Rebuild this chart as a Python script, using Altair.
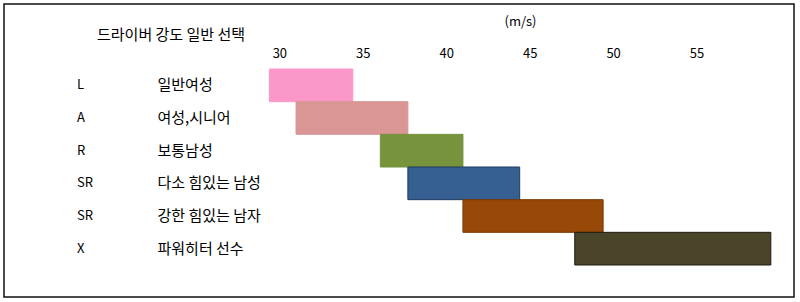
import altair as alt
import pandas as pd

codes = ["L", "A", "R", "SR", "SR", "X"]
names = ["일반여성", "여성,시니어", "보통남성", "다소 힘있는 남성", "강한 힘있는 남자", "파워히터 선수"]
starts = [29.4, 31.0, 36.05, 37.7, 41.0, 47.7]
ends = [34.4, 37.7, 41.0, 44.4, 49.4, 59.45]
ticks = [30, 35, 40, 45, 50, 55]
fills = ["#FC97CA", "#D99694", "#77933C", "#376092", "#984807", "#4A452A"]
strokes = ["#FC97CA", "#D99694", "#77933C", "#1F3A60", "#7A3A06", "#1E1C10"]
title_text = "드라이버 강도 일반 선택"
unit_text = "(m/s)"

FONT = "Noto Sans CJK KR"

df = pd.DataFrame({"code": codes, "name": names, "start": starts, "end": ends})
one = pd.DataFrame({"t": [title_text]})

yenc = alt.Y(
    "name:N",
    sort=names,
    scale=alt.Scale(domain=names, paddingInner=0, paddingOuter=0),
    axis=alt.Axis(
        orient="left", title=None, domain=False, ticks=False, labelAlign="left",
        labelPadding=89, labelFont=FONT, labelFontSize=15, labelColor="black",
        labelBaseline="middle",
    ),
)

bars = alt.Chart(df).mark_bar(strokeWidth=1).encode(
    x=alt.X(
        "start:Q",
        scale=alt.Scale(domain=[28, 60], nice=False, zero=False),
        axis=alt.Axis(
            orient="top", values=ticks, grid=False, domain=False, ticks=False,
            labelPadding=9, labelFont=FONT, labelFontSize=13, labelColor="black",
            title=unit_text, titleFont=FONT, titleFontSize=13, titleFontWeight="normal",
            titleColor="black", titleX=274, titleY=-48, titleAlign="center",
            titleBaseline="middle",
        ),
    ),
    x2="end:Q",
    y=yenc,
    color=alt.Color("name:N", scale=alt.Scale(domain=names, range=fills), legend=None),
    stroke=alt.Stroke("name:N", scale=alt.Scale(domain=names, range=strokes), legend=None),
)

code_text = alt.Chart(df).mark_text(
    align="left", baseline="middle", font=FONT, fontSize=13, color="black"
).encode(
    x=alt.value(-169),
    y=alt.Y("name:N", sort=names, scale=alt.Scale(domain=names, paddingInner=0, paddingOuter=0)),
    text="code:N",
)

title = alt.Chart(one).mark_text(
    align="left", baseline="middle", font=FONT, fontSize=15, color="black"
).encode(x=alt.value(-149), y=alt.value(-34), text="t:N")

border = alt.Chart(one).mark_rect(filled=False, stroke="#111111", strokeWidth=1.5).encode(
    x=alt.value(-242), x2=alt.value(548), y=alt.value(-65), y2=alt.value(228)
)

chart = alt.layer(border, bars, code_text, title).properties(
    width=534, height=196,
    autosize=alt.AutoSizeParams(type="none"),
    padding={"left": 246, "top": 69, "right": 20, "bottom": 37},
    background="white",
).configure_view(strokeWidth=0)

chart.save("out.html", embed_options={"renderer": "svg", "actions": False})
